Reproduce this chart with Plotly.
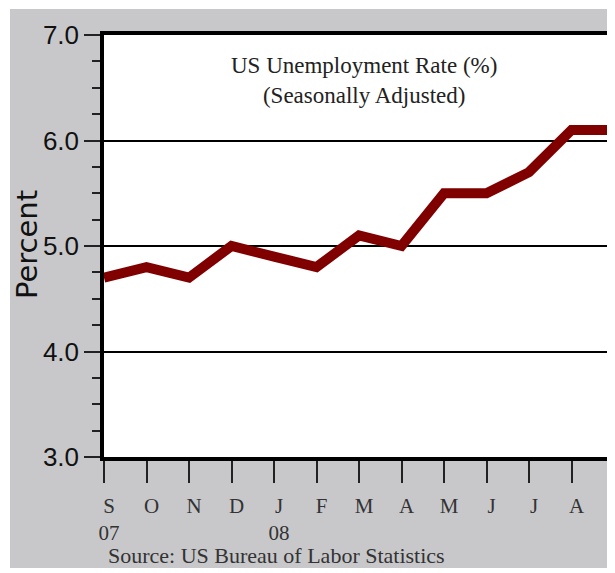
import plotly.graph_objects as go

months = ["S", "O", "N", "D", "J", "F", "M", "A", "M", "J", "J", "A", "S"]
years = ["07", "", "", "", "08", "", "", "", "", "", "", "", ""]
rate = [4.7, 4.8, 4.7, 5.0, 4.9, 4.8, 5.1, 5.0, 5.5, 5.5, 5.7, 6.1, 6.1]
y_ticks = [3.0, 4.0, 5.0, 6.0, 7.0]
y_tick_text = ["3.0", "4.0", "5.0", "6.0", "7.0"]

# page body has an 8px margin; lay the figure out in window coordinates
OFF = 8
WIN_W, WIN_H = 615, 573
W, H = WIN_W - OFF, WIN_H - OFF
L = 104 - OFF
T = 35 - OFF
R = W - (614 - OFF)
B = H - (457 - OFF)
pw, ph = W - L - R, H - T - B

def px(x):
    return (x - OFF - L) / pw

def py(y):
    return (H - B - (y - OFF)) / ph

x_idx = list(range(len(months)))
tick_text = [m + ("<br>" + yr if yr else "<br> ") for m, yr in zip(months, years)]

GREY = "#c8c8cb"
serif = "Liberation Serif, Times New Roman, serif"

fig = go.Figure()
fig.add_trace(go.Scatter(
    x=x_idx, y=rate, mode="lines",
    line=dict(color="#800000", width=10),
    hoverinfo="skip", showlegend=False,
))

fig.update_layout(
    width=W, height=H,
    margin=dict(l=L, r=R, t=T, b=B, pad=0),
    paper_bgcolor=GREY, plot_bgcolor="white",
    xaxis=dict(
        range=[0, 12], tickmode="array", tickvals=x_idx, ticktext=tick_text,
        ticks="outside", ticklen=22, tickwidth=1.5, tickcolor="#222",
        showgrid=False, zeroline=False,
        showline=True, linecolor="black", linewidth=3.5, mirror=True,
        tickfont=dict(family=serif, size=21, color="#333"),
        ticklabelshift=5, ticklabelstandoff=5,
        fixedrange=True,
    ),
    yaxis=dict(
        range=[3, 7], tickmode="array", tickvals=y_ticks, ticktext=y_tick_text,
        ticks="outside", ticklen=16, tickwidth=1.5, tickcolor="#222",
        minor=dict(dtick=0.25, tick0=3, ticks="outside", ticklen=8, tickwidth=1.5,
                   tickcolor="#222", showgrid=False),
        showgrid=True, gridcolor="black", gridwidth=1.5,
        zeroline=False,
        showline=True, linecolor="black", linewidth=3.5, mirror=False,
        tickfont=dict(family="Liberation Sans, Arial, sans-serif",
                      size=26, color="#111"),
        ticklabelstandoff=0,
        fixedrange=True,
    ),
    shapes=[
        dict(type="line", xref="paper", yref="paper", x0=1, x1=1, y0=0, y1=1,
             line=dict(color="#555", width=1.5)),
        dict(type="rect", xref="paper", yref="paper", x0=px(0), x1=px(10),
             y0=py(WIN_H + 10), y1=py(-10), fillcolor="white", line=dict(width=0), layer="below"),
        dict(type="rect", xref="paper", yref="paper", x0=px(-10), x1=px(WIN_W + 10),
             y0=py(9), y1=py(-10), fillcolor="white", line=dict(width=0), layer="below"),
        dict(type="rect", xref="paper", yref="paper", x0=px(-10), x1=px(WIN_W + 10),
             y0=py(WIN_H + 10), y1=py(568), fillcolor="white", line=dict(width=0), layer="below"),
    ],
    annotations=[
        dict(text="US Unemployment Rate (%)<br>(Seasonally Adjusted)",
             xref="paper", yref="paper", x=px(364), y=py(80),
             xanchor="center", yanchor="middle", showarrow=False,
             font=dict(family=serif, size=23, color="#222")),
        dict(text="Percent", xref="paper", yref="paper", x=px(27), y=py(245),
             xanchor="center", yanchor="middle", showarrow=False, textangle=-90,
             font=dict(family="DejaVu Sans, Liberation Sans, sans-serif", size=29, color="#111")),
        dict(text="Source: US Bureau of Labor Statistics",
             xref="paper", yref="paper", x=px(106), y=py(555),
             xanchor="left", yanchor="middle", showarrow=False,
             font=dict(family=serif, size=22, color="#333")),
    ],
)

fig.write_html("out.html")
